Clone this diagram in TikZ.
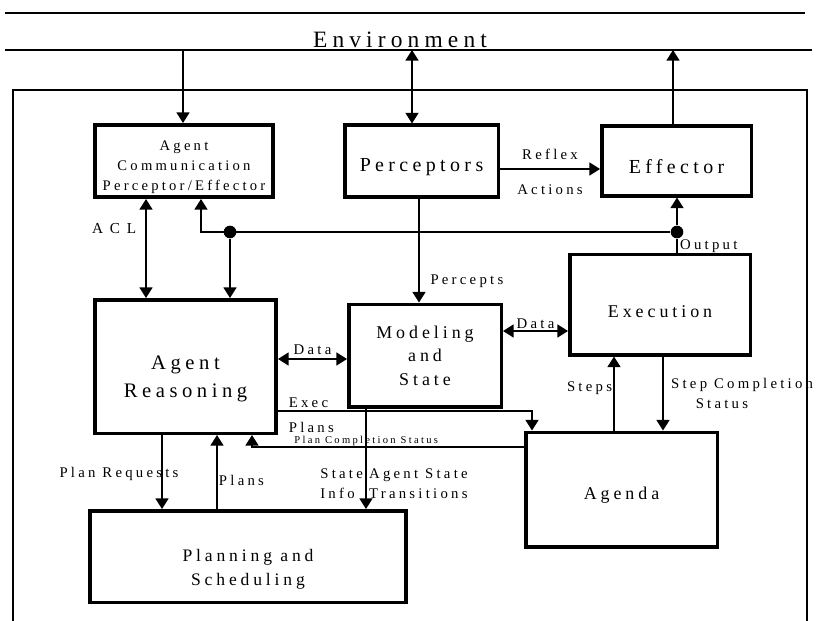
\documentclass[tikz,border=0pt]{standalone}
\usepackage{fontspec}
\setmainfont{Liberation Serif}
\newfontfamily\trackfont[LetterSpace=22]{Liberation Serif}
\newfontfamily\widetrackfont[LetterSpace=45]{Liberation Serif}
\usetikzlibrary{arrows.meta,positioning}

\begin{document}
\begin{tikzpicture}[x=0.3mm, y=-0.3mm,
    block/.style = {draw, line width=3pt, align=center, inner sep=2pt},
    bigtext/.style = {font=\trackfont\fontsize{17}{24}\selectfont},
    midtext/.style = {font=\trackfont\fontsize{15.3}{20}\selectfont},
    lbl/.style = {font=\trackfont\fontsize{12.6}{17}\selectfont, inner sep=2pt},
    junction/.style = {circle, fill, minimum size=3.8mm, inner sep=0pt},
    >={Triangle[width=11pt,length=9pt]}, line width=1.4pt
]
\useasboundingbox (0,0) rectangle (817,621);

% Environment band
\draw[line width=1.6pt] (5,13) -- (805,13);
\coordinate (skyL) at (5,50);
\coordinate (skyR) at (812,50);
\draw[line width=1.6pt] (skyL) -- (skyR);
\node[font=\trackfont\fontsize{20}{24}\selectfont, anchor=base, inner sep=0pt] (env) at (400,48) {Environment};

% Agent boundary
\draw[line width=0.9pt] (13,621) |- (807,90) -- (807,621);

% Top row
\node[block, minimum width=53.55mm, minimum height=21.75mm,
      font=\trackfont\fontsize{12.5}{17}\selectfont] (acpe) at (184,161)
      {\rule{0pt}{18.5pt}Agent\\Communication\\Perceptor/Effector};
\node[block, bigtext, minimum width=46.05mm, minimum height=21.45mm] (perc) [right=20.4mm of acpe] {\rule{0pt}{21pt}Perceptors};
\node[block, bigtext, minimum width=44.85mm, minimum height=20.85mm] (eff)  [right=30mm of perc]   {\rule{0pt}{21pt}Effector};

% Middle row
\node[block, font=\trackfont\fontsize{17.6}{24}\selectfont, minimum width=54.45mm, minimum height=40.05mm]
      (ar) [below=29.7mm of acpe, xshift=0.45mm] {\rule{0pt}{33pt}Agent\\Reasoning};
\node[block, midtext, minimum width=45.75mm, minimum height=30.75mm] (ms)  [below=31.2mm of perc, xshift=1.05mm] {Modeling\\and\\State};
\node[block, midtext, minimum width=54.15mm, minimum height=30.15mm] (exe) [below=16.5mm of eff, xshift=-4.95mm] {\rule{0pt}{22pt}Execution};

% Bottom row
\node[block, midtext, minimum width=57.45mm, minimum height=34.35mm] (agenda) [below=22.2mm of exe, xshift=-11.55mm] {\rule{0pt}{21pt}Agenda};
\node[block, font=\trackfont\fontsize{15}{21}\selectfont, minimum width=94.95mm, minimum height=27.45mm]
      (plan) [below=22.2mm of ar, xshift=18.75mm] {\rule{0pt}{32pt}Planning and\\Scheduling};

% Junctions
\node[junction] (jl) at (230,232) {};
\node[junction] (jr) at (677,232) {};

% Edges to the environment
\draw[->]  (183,0 |- skyL) -- (183,0 |- acpe.north);
\draw[<->] (412,0 |- skyL) -- (412,0 |- perc.north);
\draw[->]  (673,0 |- eff.north) -- (673,0 |- skyL);

% Edges
\draw[->] (perc.east |- 0,169) -- (eff.west |- 0,169)
    node[lbl, midway, above=5.5pt] {Reflex}
    node[lbl, midway, below=11pt] {Actions};
\draw[->] (419,0 |- perc.south) -- (419,0 |- ms.north) node[lbl, pos=0.8, right=2.5mm] {Percepts};
\draw[->] (jr) -| (201,0 |- acpe.south);
\draw[->] (jl) -- (jl |- ar.north);
\draw[->] (jr) -- (jr |- eff.south);
\draw (jr |- exe.north) -- (jr) node[lbl, midway, right] {Output};
\draw[<->] (146,0 |- acpe.south) -- (146,0 |- ar.north)
    node[pos=0.3, left=1.5mm, font=\widetrackfont\fontsize{13}{15}\selectfont] {ACL};
\draw[<->] (ar.east |- 0,359) -- (ms.west |- 0,359) node[lbl, midway, above=1pt] {Data};
\draw[<->] (ms.east |- 0,331) -- (exe.west |- 0,331) node[lbl, midway, above=-1pt] {Data};
\draw[->] (ar.east |- 0,411)
    node[lbl, anchor=south west, xshift=2.3mm] {Exec}
    node[lbl, anchor=north west, xshift=2.3mm, yshift=-2.4mm] {Plans}
    -| (532,0 |- agenda.north);
\draw[->] (agenda.west |- 0,447) -| (252,0 |- ar.south)
    node[pos=0.29, above, inner sep=0.5pt, font=\trackfont\fontsize{9}{10}\selectfont] {Plan Completion Status};
\draw[->] (614,0 |- agenda.north) -- (614,0 |- exe.south) node[lbl, pos=0.57, left, inner sep=1pt] {Steps};
\draw[->] (663,0 |- exe.south) -- (663,0 |- agenda.north)
    node[lbl, midway, right=1.5mm, align=left] {Step Completion\\\hspace*{21pt}Status};
\draw[->] (366,0 |- ms.south) -- (366,0 |- plan.north)
    node[lbl, pos=0.75, left, align=left] {State\\Info}
    node[lbl, pos=0.75, right, align=left] {Agent State\\Transitions};
\draw[->] (162,0 |- ar.south) -- (162,0 |- plan.north) node[lbl, pos=0.53, xshift=-12.9mm] {Plan Requests};
\draw[->] (217,0 |- plan.north) -- (217,0 |- ar.south) node[lbl, pos=0.38, right, inner sep=1pt] {Plans};

\end{tikzpicture}
\end{document}
